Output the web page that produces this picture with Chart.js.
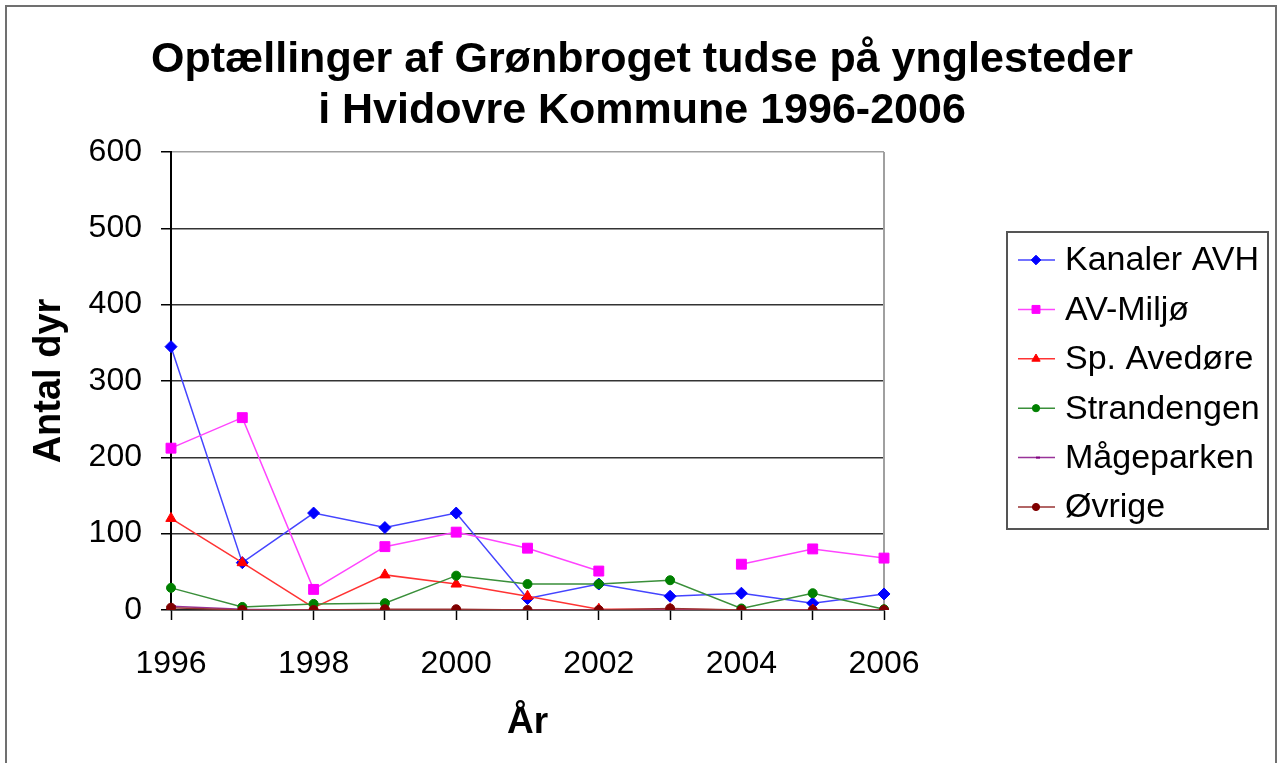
<!DOCTYPE html>
<html>
<head>
<meta charset="utf-8">
<script src="https://cdn.jsdelivr.net/npm/chart.js@4.4.0/dist/chart.umd.min.js"></script>
<style>
  body { margin: 0; background: #fff; }
  canvas { display: block; }
</style>
</head>
<body>
<canvas id="chart" width="1277" height="763"></canvas>
<script>
const FONT = "'Liberation Sans', Arial, sans-serif";

const years = ["1996", "1997", "1998", "1999", "2000", "2001", "2002", "2003", "2004", "2005", "2006"];
const kanalerAVH  = [345, 62, 127, 108, 127, 15, 34, 18, 22, 9, 21];
const avMiljo     = [212, 252, 27, 83, 102, 81, 51, null, 60, 80, 68];
const spAvedore   = [120, 62, 3, 46, 34, 18, 1, 1, 0, 0, 0];
const strandengen = [29, 4, 8, 9, 45, 34, 34, 39, 2, 22, 1];
const maageparken = [5, 1, 0, 0, 0, 0, 0, 0, 0, 0, 0];
const ovrige      = [3, 0, 0, 1, 1, 0, 0, 2, 0, 0, 0];

const yMin = 0, yMax = 600, yStep = 100;
const titleLines = ["Optællinger af Grønbroget tudse på ynglesteder", "i Hvidovre Kommune 1996-2006"];
const xTitle = "År";
const yTitle = "Antal dyr";

function series(label, data, marker, line, style, radius, order) {
  return {
    label, data, order,
    borderColor: line,
    borderWidth: 1.5,
    pointStyle: style,
    pointRadius: radius,
    pointBackgroundColor: marker,
    pointBorderColor: marker,
    pointBorderWidth: style === "dash" ? 2 : 1,
    tension: 0,
    spanGaps: false
  };
}

const datasets = [
  series("Kanaler AVH", kanalerAVH, "#0000ff", "#4444ff", "rectRot", 6, 6),
  series("AV-Miljø", avMiljo, "#ff00ff", "#ff44ff", "rect", 7, 5),
  series("Sp. Avedøre", spAvedore, "#ff0000", "#ff3333", "triangle", 6, 4),
  series("Strandengen", strandengen, "#008000", "#3a8f3a", "circle", 4.5, 3),
  series("Mågeparken", maageparken, "#800080", "#993399", "dash", 5, 2),
  series("Øvrige", ovrige, "#800000", "#993333", "circle", 4.5, 1)
];

const frame = {
  id: "frame",
  beforeDatasetsDraw(chart) {
    const { ctx, chartArea: a } = chart;
    ctx.save();
    ctx.strokeStyle = "#a0a0a0";
    ctx.lineWidth = 2;
    ctx.beginPath();
    ctx.moveTo(a.right, a.top);
    ctx.lineTo(a.right, a.bottom);
    ctx.stroke();
    ctx.restore();
  },
  afterDraw(chart) {
    const ctx = chart.ctx;
    ctx.save();
    // outer border
    ctx.strokeStyle = "#707070";
    ctx.lineWidth = 2;
    ctx.strokeRect(6, 6, 1270, 800);

    // title
    ctx.fillStyle = "#000";
    ctx.font = "bold 43px " + FONT;
    ctx.textAlign = "center";
    ctx.textBaseline = "alphabetic";
    titleLines.forEach((t, i) => ctx.fillText(t, 642, 72 + i * 51));

    // legend
    ctx.strokeStyle = "#555";
    ctx.lineWidth = 2;
    ctx.strokeRect(1007, 232, 261, 297);
    ctx.font = "34px " + FONT;
    ctx.textAlign = "left";
    ctx.textBaseline = "middle";
    chart.data.datasets.forEach((ds, i) => {
      const y = 260 + i * 49.4;
      ctx.strokeStyle = ds.borderColor;
      ctx.lineWidth = 1.5;
      ctx.beginPath();
      ctx.moveTo(1018, y);
      ctx.lineTo(1055, y);
      ctx.stroke();
      ctx.fillStyle = ds.pointBackgroundColor;
      ctx.strokeStyle = ds.pointBorderColor;
      ctx.lineWidth = ds.pointBorderWidth;
      Chart.helpers.drawPoint(ctx, {
        pointStyle: ds.pointStyle,
        radius: ds.pointRadius * 0.8,
        rotation: 0,
        borderWidth: ds.pointBorderWidth
      }, 1036, y);
      ctx.fillStyle = "#000";
      ctx.fillText(ds.label, 1065, y + 1);
    });
    ctx.restore();
  }
};

new Chart(document.getElementById("chart"), {
  type: "line",
  data: { labels: years, datasets },
  plugins: [frame],
  options: {
    responsive: false,
    animation: false,
    layout: { padding: { top: 152, left: 0, right: 393, bottom: 0 } },
    plugins: {
      legend: { display: false },
      tooltip: { enabled: false },
      title: { display: false }
    },
    scales: {
      x: {
        type: "category",
        offset: false,
        grid: { drawOnChartArea: false, drawTicks: true, tickLength: 10, tickColor: "#000", tickWidth: 1.5 },
        border: { color: "#222", width: 1.5 },
        ticks: {
          autoSkip: false,
          maxRotation: 0,
          padding: 25,
          color: "#000",
          font: { family: FONT, size: 32 },
          callback(v, i) { return i % 2 === 0 ? this.getLabelForValue(v) : ""; }
        },
        title: {
          display: true, text: xTitle, color: "#000",
          font: { family: FONT, size: 37, weight: "bold" },
          padding: { top: 0, bottom: 18 }
        },
        afterFit(s) { s.height = 153; }
      },
      y: {
        min: yMin, max: yMax,
        grid: {
          color: c => (c.tick && c.tick.value === yMax ? "#a0a0a0" : "#333"),
          lineWidth: 1.5, tickLength: 10, tickColor: "#000", drawTicks: true
        },
        border: { color: "#000", width: 2 },
        ticks: { stepSize: yStep, padding: 19, color: "#000", font: { family: FONT, size: 32 } },
        title: {
          display: true, text: yTitle, color: "#000",
          font: { family: FONT, size: 38, weight: "bold" },
          padding: { top: 27, bottom: 0 }
        },
        afterFit(s) { s.width = 171; }
      }
    }
  }
});
</script>
</body>
</html>
